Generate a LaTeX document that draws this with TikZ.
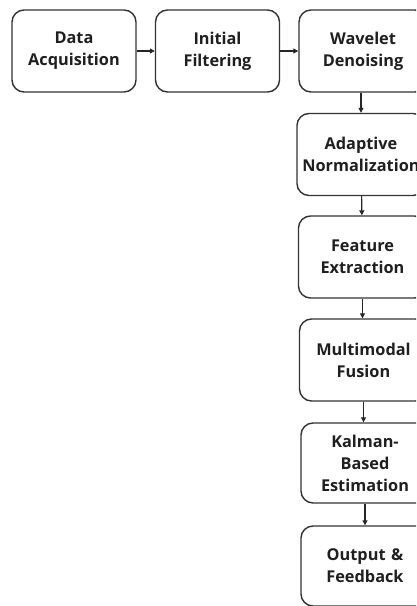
\documentclass[tikz,border=0pt]{standalone}
\usepackage{fontspec}
\setmainfont{Open Sans}
\usetikzlibrary{arrows.meta}
\begin{document}
\begin{tikzpicture}[x=1pt,y=1pt,
  stagebox/.style={draw=black!80, line width=1.4pt, rounded corners=12pt, fill=white,
    minimum height=82pt, inner sep=0pt, align=center,
    font=\fontsize{16.3}{22}\selectfont\bfseries, text=black!88},
  rowbox/.style={stagebox, minimum width=124pt, text width=124pt},
  colbox/.style={stagebox, minimum width=128pt, text width=128pt},
  link/.style={draw=black!85, line width=1.2pt, -{Triangle[length=5pt,width=5pt]}}]
\useasboundingbox (0,0) rectangle (416,-606);
\clip (0,0) rectangle (416,-606);
\node[rowbox] (acq) at (74,-51) {Data\\Acquisition};
\node[rowbox] (filt) at (217.5,-51) {Initial\\Filtering};
\node[colbox] (wav) at (363,-51) {Wavelet\\Denoising};
\node[colbox] (norm) at (361,-154.5) {Adaptive\\Normalization};
\node[colbox] (feat) at (362.5,-257) {Feature\\Extraction};
\node[colbox] (fus) at (363.5,-360) {Multimodal\\Fusion};
\node[colbox, minimum height=80pt] (kal) at (365,-463) {Kalman-\\Based\\Estimation};
\node[colbox, minimum height=80pt] (out) at (365,-566) {Output \&\\Feedback};
\draw[link] (acq) -- (filt);
\draw[link] (filt) -- (wav);
\draw[link] (wav.south -| norm.north) -- (norm.north);
\draw[link] (norm) -- (feat);
\draw[link] (feat.south) -- (feat.south |- fus.north);
\draw[link] (fus.south) -- (fus.south |- kal.north);
\draw[link] (kal) -- (out);
\end{tikzpicture}
\end{document}
